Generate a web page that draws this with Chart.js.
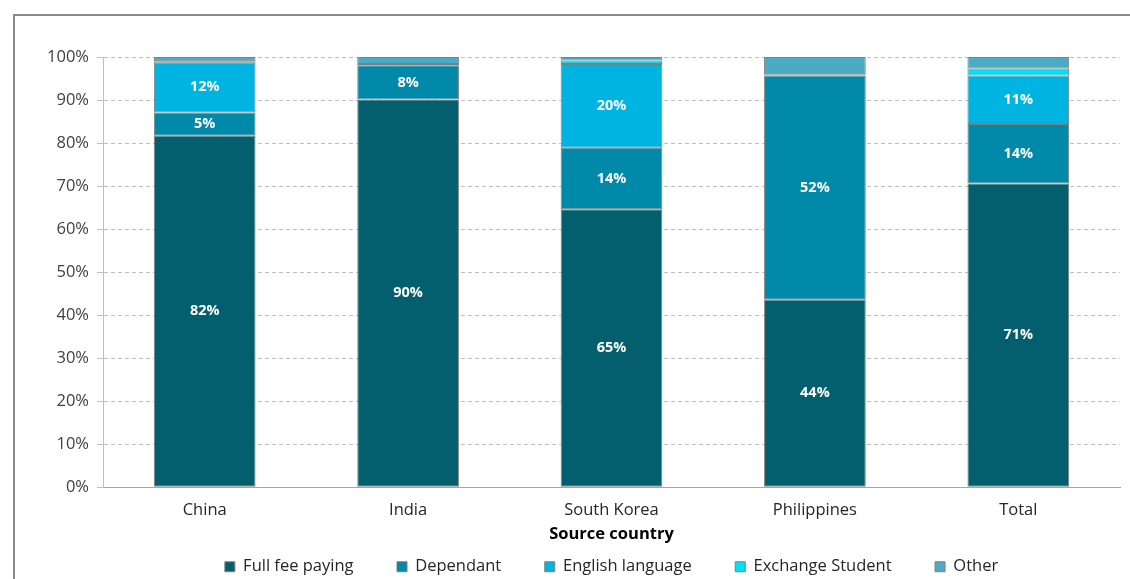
<!DOCTYPE html>
<html>
<head>
<meta charset="utf-8">
<script src="https://cdn.jsdelivr.net/npm/chart.js@4/dist/chart.umd.min.js"></script>
<style>
  html, body { margin: 0; padding: 0; background: #fff; }
  #wrap { position: relative; width: 1130px; height: 579px; overflow: hidden; }
  #frame { position: absolute; left: 13px; top: 14px; width: 1200px; height: 700px; border: 2px solid #8c8c8c; box-sizing: border-box; pointer-events: none; }
  canvas { position: absolute; left: 0; top: 0; }
</style>
</head>
<body>
<div id="wrap">
  <canvas id="chart" width="1130" height="579"></canvas>
  <div id="frame"></div>
</div>
<script>
// categories + stacked shares (%)
const countries = ["China", "India", "South Korea", "Philippines", "Total"]
const fullFee = [81.7, 90.1, 64.6, 43.6, 70.6]
const dependant = [5.4, 8.0, 14.3, 52.1, 13.8]
const english = [11.7, 0.3, 19.5, 0.3, 11.3]
const exchange = [0.2, 0.0, 0.8, 0.0, 1.6]
const other = [1.0, 1.6, 0.8, 4.0, 2.7]
const yTicks = [0, 10, 20, 30, 40, 50, 60, 70, 80, 90, 100]

const fontFam = "'Open Sans', sans-serif"
const fs = 16.5

// white % labels inside the bigger segments
const segLabels = {
  id: 'segLabels',
  afterDatasetsDraw(chart) {
    const ctx = chart.ctx
    ctx.save()
    ctx.fillStyle = '#ffffff'
    ctx.font = "bold 14.5px " + fontFam
    ctx.textAlign = 'center'
    ctx.textBaseline = 'middle'
    chart.data.datasets.forEach((ds, i) => {
      const meta = chart.getDatasetMeta(i)
      meta.data.forEach((bar, j) => {
        const v = ds.data[j]
        if (v < 4.5) return
        ctx.fillText(Math.round(v) + '%', bar.x, (bar.y + bar.base) / 2)
      })
    })
    ctx.restore()
  }
}

const mk = (label, data, color) => ({
  label: label,
  data: data,
  backgroundColor: color,
  borderColor: '#7f7f7f',
  borderWidth: 1,
  borderSkipped: false,
  barPercentage: 0.5,
  categoryPercentage: 1
})

new Chart(document.getElementById('chart'), {
  type: 'bar',
  data: {
    labels: countries,
    datasets: [
      mk("Full fee paying", fullFee, "#035f6e"),
      mk("Dependant", dependant, "#0089a8"),
      mk("English language", english, "#00b4e1"),
      mk("Exchange Student", exchange, "#00e0f8"),
      mk("Other", other, "#4babc5")
    ]
  },
  options: {
    responsive: false,
    animation: false,
    layout: { padding: { left: 13, right: 10, top: 57, bottom: -6 } },
    plugins: {
      tooltip: { enabled: false },
      legend: {
        position: 'bottom',
        fullSize: false,
        labels: {
          boxWidth: 10,
          boxHeight: 10,
          padding: 43.5,
          color: '#262626',
          font: { family: fontFam, size: fs }
        }
      }
    },
    scales: {
      x: {
        stacked: true,
        grid: { display: false },
        border: { color: '#a6a6a6' },
        // axis box is squeezed by the tall legend, so don't clip the tick labels to it
        afterFit: (s) => { s._computeLabelArea = () => undefined },
        ticks: { color: '#262626', font: { family: fontFam, size: fs }, padding: 5 },
        title: {
          display: true,
          text: 'Source country',
          color: '#000',
          font: { family: fontFam, size: fs, weight: 'bold' },
          padding: { top: -0.6, bottom: -29.2 }
        }
      },
      y: {
        stacked: true,
        min: 0,
        max: 100,
        afterBuildTicks: (s) => { s.ticks = yTicks.map(v => ({ value: v })) },
        afterFit: (s) => { s.width = 90 },
        grid: { color: '#bfbfbf', tickLength: 6, tickBorderDash: [], tickColor: '#bfbfbf' },
        border: { color: '#bfbfbf', dash: [4, 3] },
        ticks: {
          color: '#404040',
          font: { family: fontFam, size: fs },
          padding: 8,
          callback: (v) => v + '%'
        }
      }
    }
  },
  plugins: [segLabels]
})
</script>
</body>
</html>
